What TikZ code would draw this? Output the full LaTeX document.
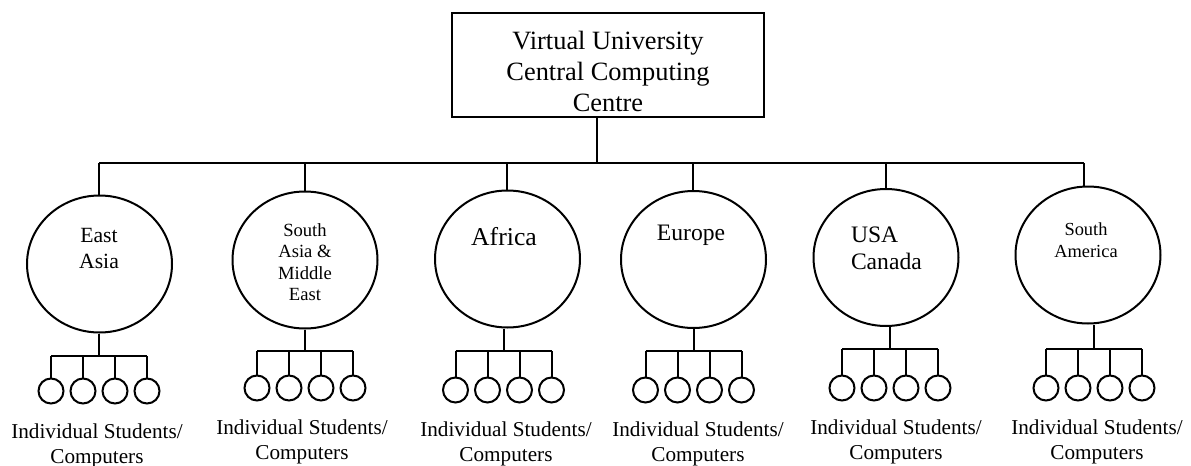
\documentclass[tikz,border=0pt]{standalone}
\usepackage{fontspec}
\setmainfont{Liberation Serif}
\usetikzlibrary{shapes.geometric}

\begin{document}
\begin{tikzpicture}[x=0.5pt, y=-0.5pt, line width=1pt,
    hub/.style = {draw, rectangle, minimum width=156pt, minimum height=52pt},
    region/.style = {draw, ellipse, minimum width=72.5pt, minimum height=68.5pt},
    pc/.style = {draw, circle, minimum size=12.5pt, inner sep=0pt},
    caption/.style = {align=center, font=\fontsize{10.6}{12.5}\selectfont}]
  \useasboundingbox (0,0) rectangle (1191,466);

  \node[hub] (vu) at (608,65) {};
  \node[align=center, font=\fontsize{13.2}{15.5}\selectfont] (vutext) at (608,71)
    {Virtual University\\Central Computing\\Centre};
  \coordinate (bus) at (597,163);
  \draw (vu.south -| bus) -- (bus);

  % one column per region: drop, circle, sub-bus, four computers, caption
  \foreach \n/\dx/\cx/\cy/\bx/\sy/\py/\lx/\ly in {
      1/99/99.5/264/99/356/391/97/446,
      2/305/305/260/305/351/388/302/442,
      3/507/507.5/259/503.5/351/390/506/444,
      4/693/693.5/259.5/693.5/351/390/698/444,
      5/886/886/257.5/890/349/388/896/442,
      6/1084/1088/255/1094/349/388/1097/442} {
    \node[region] (r\n) at (\cx,\cy) {};
    \coordinate (t\n) at (\dx,163);
    \draw (t\n) -- (r\n.north -| t\n);
    \coordinate (s\n) at (\bx,\sy);
    \draw (r\n.south -| s\n) -- (s\n);
    \foreach \k in {0,...,3}
      \node[pc] (p\n-\k) at ({\bx-48+32*\k},\py) {};
    \draw (p\n-0 |- s\n) -- (p\n-3 |- s\n);
    \foreach \k in {0,...,3}
      \draw (p\n-\k |- s\n) -- (p\n-\k.north);
    \node[caption] (c\n) at (\lx,\ly) {Individual Students/\\Computers};
  }
  \draw (t1) -- (t6);

  \node[align=center, font=\fontsize{10.85}{13}\selectfont] (ea) at (99,249) {East\\Asia};
  \node[align=center, font=\fontsize{9.3}{10.75}\selectfont] (sa) at (305,262) {South\\Asia \&\\Middle\\East};
  \node[font=\fontsize{12.85}{15}\selectfont] (af) at (504,237) {Africa};
  \node[font=\fontsize{11.8}{14}\selectfont] (eu) at (691,235) {Europe};
  \node[align=left, anchor=west, inner xsep=0pt, font=\fontsize{11.8}{13.5}\selectfont] (us) at (850,248.5) {USA\\Canada};
  \node[align=center, font=\fontsize{9.2}{11}\selectfont] (sam) at (1086,240.5) {South\\America};
\end{tikzpicture}
\end{document}
